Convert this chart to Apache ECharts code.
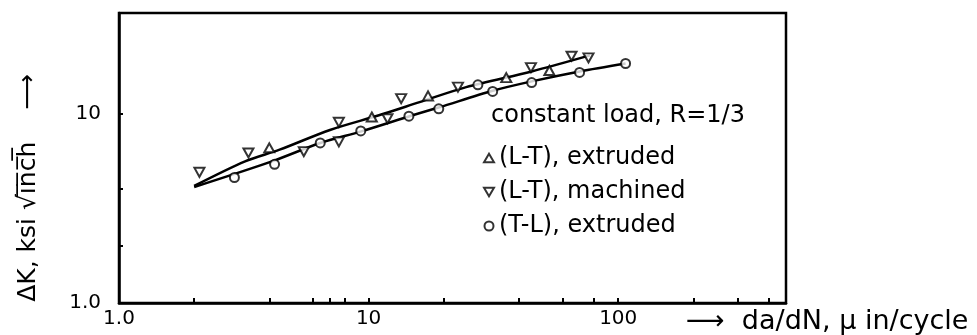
<!DOCTYPE html>
<html>
<head>
<meta charset="utf-8">
<script src="https://cdn.jsdelivr.net/npm/echarts@6/dist/echarts.min.js"></script>
<style>
html,body{margin:0;padding:0;background:#fff;}
#chart{width:977px;height:335px;}
</style>
</head>
<body>
<div id="chart"></div>
<script>
// ---- data (da/dN in micro-in/cycle, ΔK in ksi√in) ----
const ltExtruded = [[4.0, 6.6], [10.3, 9.6], [17.3, 12.4], [35.6, 15.5], [53, 16.9]];
const ltMachined = [[2.1, 4.9], [3.3, 6.2], [5.5, 6.3], [7.6, 9.0], [7.6, 7.1], [11.9, 9.4],
                    [13.5, 12.0], [22.8, 13.8], [44.7, 17.5], [65, 20.1], [76, 19.7]];
const tlExtruded = [[2.9, 4.6], [4.2, 5.4], [6.4, 7.0], [9.3, 8.1], [14.5, 9.7], [19.1, 10.6],
                    [27.4, 14.2], [31.4, 13.1], [45, 14.6], [70, 16.5], [107, 18.4]];
const upperCurve = [[2.0, 4.15], [3.2, 5.6], [4.4, 6.45], [7.0, 8.2], [11, 9.8], [16, 11.5],
                    [24.6, 13.8], [45, 16.7], [77, 20.3]];
const lowerCurve = [[2.0, 4.1], [4.1, 5.6], [6.4, 7.0], [9.35, 8.06], [15, 9.8], [19.2, 10.8],
                    [31.4, 13.2], [45, 14.8], [70, 16.7], [107, 18.4]];
const seriesNames = ['(L-T), extruded', '(L-T), machined', '(T-L), extruded'];
const xLabelValues = [1, 10, 100];
const xTickValues = [2, 4, 6, 7, 8, 10, 20, 40, 60, 80, 100, 200, 300, 400];
const yLabelValues = [1, 10];
const yTickValues = [2, 4, 10];
const labelText = {1: '1.0', 10: '10', 100: '100'};

const FONT = 'DejaVu Sans';
const chart = echarts.init(document.getElementById('chart'), null, {renderer: 'canvas'});
const marker = {color: '#fff', borderColor: '#000', borderWidth: 2};
const downTriangle = 'path://M0,0L10,0L5,8.66Z';
const upTriangle = 'path://M5,0L10,8.66L0,8.66Z';

chart.setOption({
  animation: false,
  backgroundColor: '#fff',
  grid: {left: 119, right: 191, top: 13, bottom: 32, show: true,
         borderColor: '#000', borderWidth: 2.5, backgroundColor: 'transparent'},
  title: {text: 'constant load, R=1/3', left: 486, top: 99,
          textStyle: {fontFamily: FONT, fontSize: 24, fontWeight: 'normal', color: '#000'}},
  legend: {
    orient: 'vertical', left: 478, top: 141, itemGap: 10,
    itemWidth: 10, itemHeight: 9, data: seriesNames,
    textStyle: {fontFamily: FONT, fontSize: 24, color: '#000'}
  },
  xAxis: {
    type: 'log', logBase: 10, min: 1, max: 470,
    name: '⟶  da/dN, μ in/cycle', nameLocation: 'end', nameGap: -100,
    nameTextStyle: {fontFamily: FONT, fontSize: 27, color: '#000', align: 'left',
                    verticalAlign: 'top', padding: [5, 0, 0, 0]},
    axisLine: {show: true, lineStyle: {color: '#000', width: 2.5}},
    axisTick: {show: true, inside: true, length: 5, customValues: xTickValues,
               lineStyle: {color: '#000', width: 2}},
    axisLabel: {customValues: xLabelValues, formatter: v => labelText[Math.round(v)] || '',
                fontFamily: FONT, fontSize: 20, color: '#000', margin: 6},
    splitLine: {show: false}, minorTick: {show: false}
  },
  yAxis: {
    type: 'log', logBase: 10, min: 1, max: 34,
    name: 'ΔK, ksi √i\u0305n\u0305c\u0305h\u0305    ⟶', nameLocation: 'middle', nameRotate: 90, nameGap: 78,
    nameTextStyle: {fontFamily: FONT, fontSize: 25, color: '#000', padding: [0, 60, 0, 0]},
    axisLine: {show: true, lineStyle: {color: '#000', width: 2.5}},
    axisTick: {show: true, inside: true, length: 4, customValues: yTickValues,
               lineStyle: {color: '#000', width: 2}},
    axisLabel: {customValues: yLabelValues, formatter: v => labelText[Math.round(v)] || '',
                fontFamily: FONT, fontSize: 20, color: '#000', margin: 18},
    splitLine: {show: false}, minorTick: {show: false}
  },
  series: [
    {type: 'line', data: upperCurve, smooth: 0.3, showSymbol: false, silent: true,
     lineStyle: {color: '#000', width: 2.5}, z: 2},
    {type: 'line', data: lowerCurve, smooth: 0.3, showSymbol: false, silent: true,
     lineStyle: {color: '#000', width: 2.5}, z: 2},
    {name: seriesNames[0], type: 'scatter', data: ltExtruded, symbol: upTriangle,
     symbolSize: [10, 9], itemStyle: marker, z: 5},
    {name: seriesNames[1], type: 'scatter', data: ltMachined, symbol: downTriangle,
     symbolSize: [10, 9], itemStyle: marker, z: 5},
    {name: seriesNames[2], type: 'scatter', data: tlExtruded, symbol: 'circle',
     symbolSize: 9, itemStyle: marker, z: 5}
  ]
});
</script>
</body>
</html>
